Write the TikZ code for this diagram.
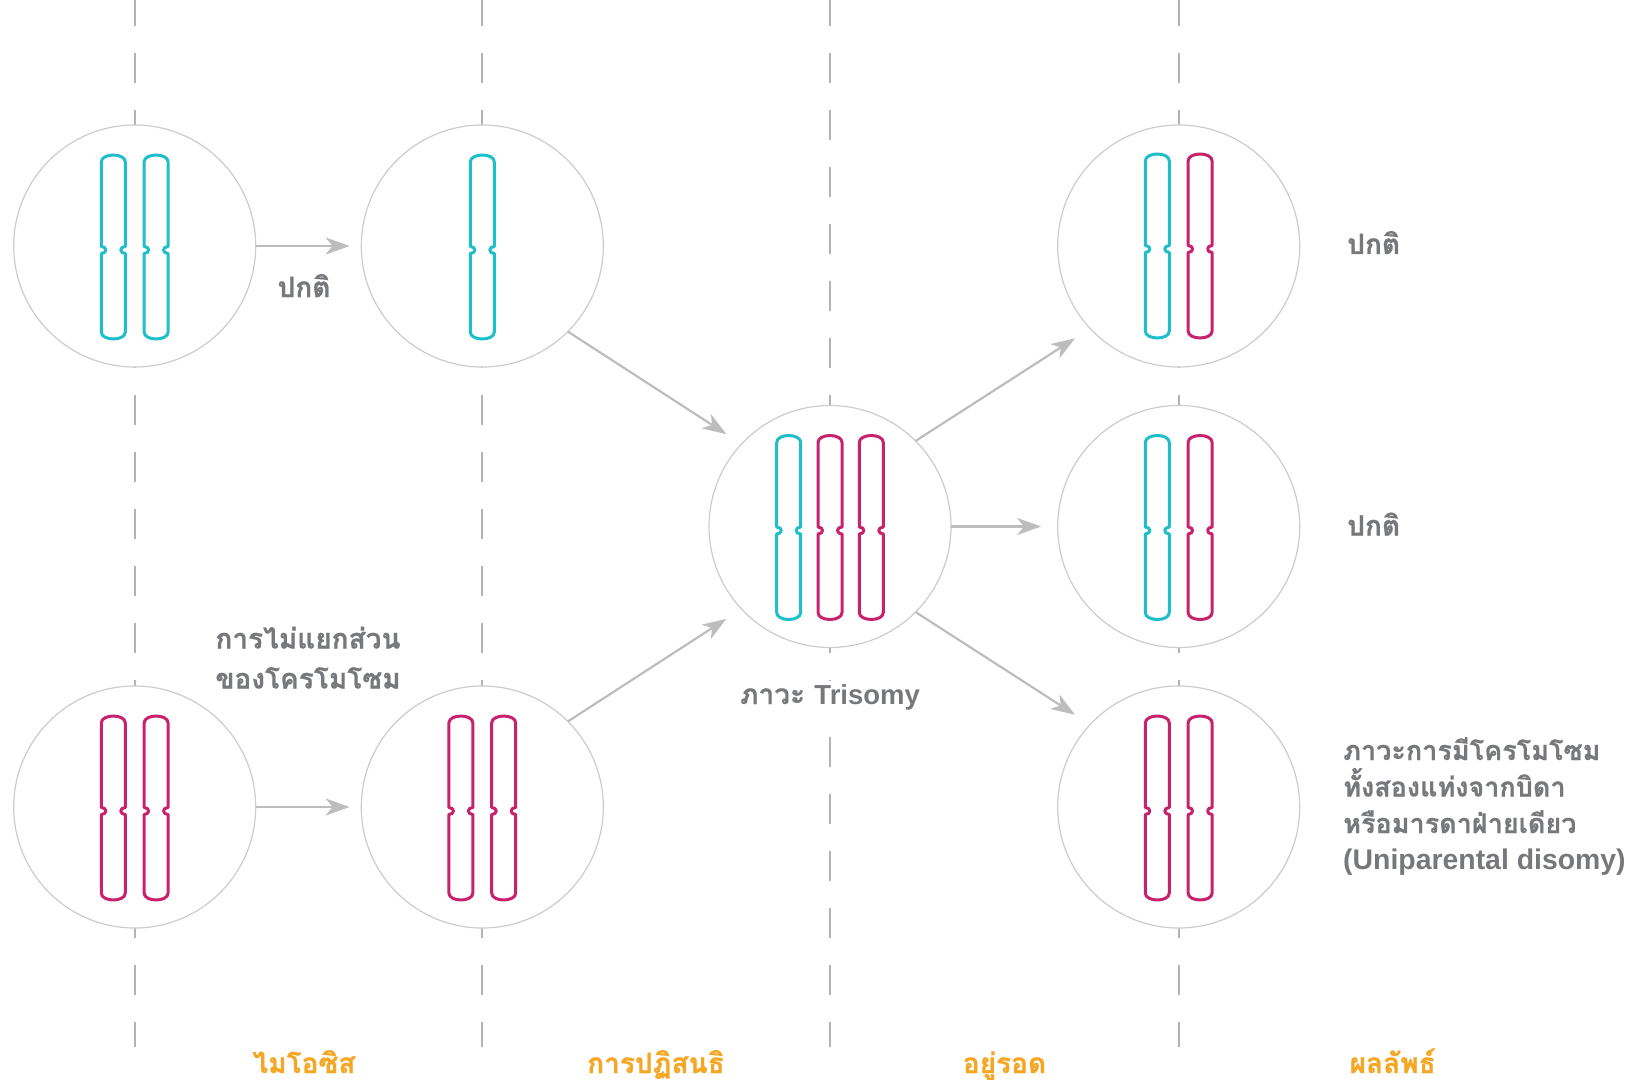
\documentclass[tikz,border=0pt]{standalone}
\usepackage{fontspec}
\setmainfont{Liberation Sans}
\newfontfamily\thai[Script=Thai, BoldFeatures={FakeBold=0.6}]{Loma}
\usetikzlibrary{arrows.meta}

\definecolor{cellline}{HTML}{CCCCCC}
\definecolor{laneline}{HTML}{B3B3B3}
\definecolor{arrowgray}{HTML}{BDBDBD}
\definecolor{labelgray}{HTML}{77787B}
\definecolor{stageorange}{HTML}{F5A623}
\definecolor{chromcyan}{HTML}{1EBFCA}
\definecolor{chrommagenta}{HTML}{C8226F}

\tikzset{
  lane/.style={draw=laneline, line width=2pt, dash pattern=on 30pt off 27pt},
  cell/.style={circle, draw=cellline, line width=1.2pt, fill=white,
               minimum size=242pt, inner sep=0pt, outer sep=0pt},
  flow/.style={draw=arrowgray, line width=2.2pt,
               -{Stealth[length=24pt, width=17pt, inset=7pt]}},
  chromline/.style={line width=3pt, line join=round},
  graylabel/.style={text=labelgray, inner sep=1pt,
                    font=\thai\bfseries\fontsize{28}{36.5}\selectfont},
  stagelabel/.style={text=stageorange, inner sep=0pt,
                     font=\thai\bfseries\fontsize{28}{34}\selectfont},
  % one chromosome: rounded arms with a small inward notch at the centromere
  pics/chrom/.style={code={
    \draw[chromline, draw=#1]
      (-12,-1) -- (-12,-85) .. controls (-12,-94.3) and (12,-94.3) .. (12,-85)
      -- (12,-0.5) .. controls (6,-0.5) and (6,6.5) .. (12,6.5)
      -- (12,85) .. controls (12,94.3) and (-12,94.3) .. (-12,85)
      -- (-12,6.5) .. controls (-6,6.5) and (-6,-0.5) .. (-12,-0.5) -- cycle;
  }},
}
\newcommand{\latinpart}[2][27.5]{{\rmfamily\bfseries\fontsize{#1}{36.5}\selectfont #2}}

\begin{document}
\begin{tikzpicture}[x=1pt, y=-1pt]
  \useasboundingbox (0,0) rectangle (1637,1083);

  % stage lanes
  \foreach \lx in {134.7, 482.3, 830, 1178.7}
    \draw[lane] (\lx,-4) -- (\lx,1047);

  % cells
  \node[cell] (meioA)  at (134.7,246)   {};
  \node[cell] (meioB)  at (134.7,807)   {};
  \node[cell] (gamA)   at (482.3,246)   {};
  \node[cell] (gamB)   at (482.3,807)   {};
  \node[cell] (trisom) at (830,526.5)   {};
  \node[cell] (outA)   at (1178.7,246)  {};
  \node[cell] (outB)   at (1178.7,526.5){};
  \node[cell] (outC)   at (1178.7,807)  {};

  % chromosomes
  \pic at (113.3,247) {chrom=chromcyan};
  \pic at (156.1,247) {chrom=chromcyan};
  \pic at (113.3,808) {chrom=chrommagenta};
  \pic at (156.1,808) {chrom=chrommagenta};
  \pic at (482.3,247) {chrom=chromcyan};
  \pic at (460.9,808) {chrom=chrommagenta};
  \pic at (503.7,808) {chrom=chrommagenta};
  \pic at (788.7,527.5) {chrom=chromcyan};
  \pic at (830,527.5)   {chrom=chrommagenta};
  \pic at (871.3,527.5) {chrom=chrommagenta};
  \pic at (1157.3,246)  {chrom=chromcyan};
  \pic at (1200.1,246)  {chrom=chrommagenta};
  \pic at (1157.3,527.5){chrom=chromcyan};
  \pic at (1200.1,527.5){chrom=chrommagenta};
  \pic at (1157.3,808)  {chrom=chrommagenta};
  \pic at (1200.1,808)  {chrom=chrommagenta};

  % connectors
  \draw[flow, shorten >=11.7pt] (meioA.east) -- (gamA.west);
  \draw[flow, shorten >=11.7pt] (meioB.east) -- (gamB.west);
  \draw[flow, shorten >=18pt] (gamA.-45) -- (trisom.137);
  \draw[flow, shorten >=18pt] (gamB.45) -- (trisom.-137);
  \draw[flow, shorten >=18pt] (trisom.45) -- (outA.-137);
  \draw[flow, shorten >=16.6pt] (trisom.east) -- (outB.west);
  \draw[flow, shorten >=18pt] (trisom.-45) -- (outC.137);

  % labels (multi-line nodes sit on the baseline of their last line)
  \node[graylabel, anchor=base] (normA) at (304,297) {ปกติ};
  \node[graylabel, anchor=base, align=center, font=\thai\bfseries\fontsize{28}{40}\selectfont]
    (nondis) at (308,688.5) {การไม่แยกส่วน\\ของโครโมโซม};
  \node[graylabel, anchor=base, fill=white, inner sep=3pt] (trilbl) at (830,704)
    {ภาวะ \latinpart{Trisomy}};
  \node[graylabel, anchor=base west] (normB) at (1346,254) {ปกติ};
  \node[graylabel, anchor=base west] (normC) at (1346,535.5) {ปกติ};
  \node[graylabel, anchor=base west, align=left, font=\thai\bfseries\fontsize{27}{36.5}\selectfont]
    (updlbl) at (1342,869.5)
    {ภาวะการมีโครโมโซม\\ทั้งสองแท่งจากบิดา\\หรือมารดาฝ่ายเดียว\\\latinpart[28.4]{(Uniparental disomy)}};

  % stage names
  \node[stagelabel, anchor=base] (stg1) at (304,1073)    {ไมโอซิส};
  \node[stagelabel, anchor=base] (stg2) at (656,1073)    {การปฏิสนธิ};
  \node[stagelabel, anchor=base] (stg3) at (1004.5,1073) {อยู่รอด};
  \node[stagelabel, anchor=base] (stg4) at (1392.7,1073) {ผลลัพธ์};
\end{tikzpicture}
\end{document}
